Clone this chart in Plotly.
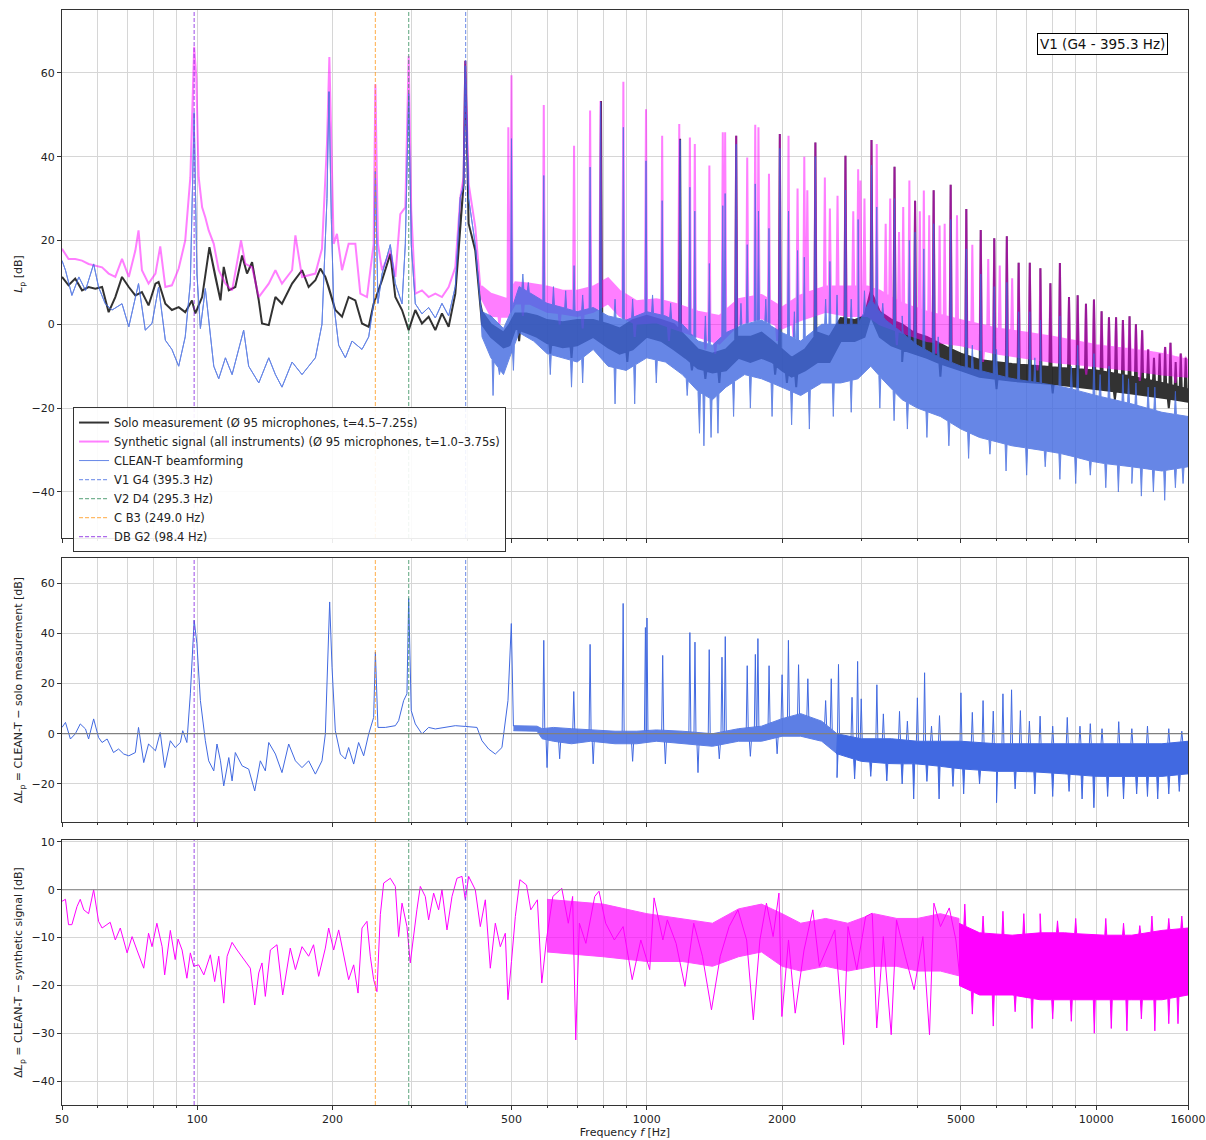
import numpy as np
import plotly.graph_objects as go

# ---------------- instrument fundamentals ----------------
note_names = ["V1 G4 (395.3 Hz)", "V2 D4 (295.3 Hz)", "C B3 (249.0 Hz)", "DB G2 (98.4 Hz)"]
note_freqs = [395.3, 295.3, 249.0, 98.4]
note_colors = ["rgba(65,105,225,0.65)", "rgba(46,139,87,0.65)", "rgba(255,140,0,0.6)", "rgba(138,43,226,0.7)"]

# ---------------- top panel: solo measurement ----------------
solo_line_f = [50, 51.7, 53.5, 55.4, 57.3, 59.3, 61.4, 63.5, 65.7, 68.0, 70.4, 72.8, 75.3, 77.9, 80.7, 82.0, 84.9, 87.8,
               90.9, 94.0, 97.3, 99.0, 102.5, 106.4, 109.7, 112.6, 114.5, 117.5, 121.5, 125.8, 129.0, 132.4, 137.0, 139.3,
               144.2, 149.2, 154.3, 162.5, 171.0, 176.9, 183.1, 187.8, 192.7, 196.0, 202.8, 209.9, 217.1, 224.7, 232.5,
               240.6, 246.8, 257.6, 268.8, 275.8, 285.4, 295.3, 305.5, 316.1, 327.1, 338.5, 350.2, 362.4, 375.0, 384.7,
               391.3, 394.7, 401.5, 415.4, 426.2]
solo_line_db = [11.3, 9.3, 10.9, 8.1, 8.9, 8.5, 8.9, 2.9, 6.5, 11.3, 8.9, 6.9, 7.7, 4.5, 9.7, 10.1, 4.9, 3.4, 4.1, 2.9,
                5.7, 2.6, 6.5, 18.4, 11.3, 5.7, 13.7, 8.1, 8.9, 16.4, 12.1, 14.8, 5.7, 0.2, -0.2, 6.5, 4.9, 9.7, 12.9,
                8.9, 10.5, 13.3, 11.3, 8.9, 3.4, 1.8, 6.5, 5.7, 0.2, -0.6, 4.9, 10.5, 16.8, 6.5, 3.4, -1.4, 3.4, 0.2,
                1.8, -1.4, 2.6, -0.6, 7.3, 24.0, 33.5, 62.9, 24.0, 17.6, 4.9]
solo_band_f = [430, 450, 480, 495, 510, 540, 570, 600, 650, 700, 760, 820, 870, 930, 1000, 1080, 1150, 1220, 1300, 1400,
               1500, 1600, 1700, 1800, 1900, 2000, 2100, 2250, 2400, 2550, 2700, 2900, 3050, 3150, 3300, 3500, 3700,
               3930, 4200, 4660, 5000, 5500, 6500, 7500, 8500, 10000, 12000, 14000, 16000]
solo_band_hi = [3, 0, -2, 0, 2.6, 2.6, 2, 1, 0.5, 1, 1, 0, -1, 1, 2, 1, 0, -3, -6, -7, -6, -3, -3, -2, -4, -6, -8, -6,
                -2, -3, 1.5, 1, 2, 8, 3, 1, 0, -2, -3, -5.5, -7, -8.5, -9.5, -10, -10.5, -11, -12.5, -14, -15.5]
solo_band_lo = [0, -3, -5.5, -5, -1, -2, -3, -4.5, -5.5, -5, -3, -5.5, -7, -6, -3, -4, -6, -8, -10.5, -11.5, -11, -8,
                -9, -8, -9, -11, -12.5, -11, -9, -9, -4, -4, -3, 2, -3, -5, -6, -7, -8, -10, -11, -12.5, -13.5, -14,
                -14.5, -15.5, -16.5, -17.5, -18.5]
solo_peak_f = [791, 1186, 1581, 1977, 2372, 2767, 3162, 3558, 3953, 4348, 4744, 5139, 5534, 5930, 6325, 6720, 7115,
               7511, 7906, 8301, 8697, 9092, 9487, 9883, 10278, 10673, 11068, 11464, 11859, 12254, 12650, 13045, 13440,
               13836, 14231, 14626, 15021, 15417, 15812]
solo_peak_db = [53.3, 44.3, 45, 45.4, 43.4, 40.2, 44, 37.6, 29.5, 32, 33.3, 27.5, 22.5, 20.5, 21, 14.7, 14.7, 13.4, 9.8,
                14.6, 6.5, 6.9, 4.9, 5.9, 3.1, 1.7, 1.7, 1.0, 1.9, 0, -1.4, -6, -8, -7, -5.4, -4.4, -9, -7, -8]
solo_dip_f = [520, 610, 680, 905, 1260, 1350, 1450, 1930, 2050, 2150, 3700, 4500, 6000, 8000, 11000, 14500]
solo_dip_db = [-4, -7, -8, -9, -11, -13, -14, -12, -14, -15, -9, -12.5, -15.5, -16.5, -18, -20]

# ---------------- top panel: synthetic signal ----------------
synth_line_f = [50, 51.7, 53.5, 55.4, 57.3, 59.3, 61.4, 63.5, 65.7, 68.0, 70.4, 72.8, 74.0, 75.3, 77.9, 80.7, 82.7,
                84.9, 87.8, 90.9, 94.0, 96.5, 98.15, 98.4, 99.5, 100.7, 102.5, 104.2, 106.0, 108.8, 111.6, 115.5,
                119.5, 125.1, 127.9, 132.4, 137.0, 144.2, 149.2, 154.3, 162.5, 165.3, 171.0, 183.1, 189.4, 194.3,
                196.7, 198.7, 201.1, 204.5, 209.9, 217.1, 224.7, 230.5, 238.5, 246.8, 249.0, 252.3, 257.6, 268.8,
                275.8, 282.9, 290.3, 295.3, 299.2, 305.5, 316.1, 327.1, 338.5, 350.2, 362.4, 375.0, 384.7, 391.3,
                394.7, 401.5, 415.4, 426.2]
synth_line_db = [18.0, 15.6, 15.6, 15.2, 14.4, 14.0, 13.6, 12.1, 11.3, 15.6, 11.3, 17.6, 22.4, 12.9, 9.7, 12.1, 18.6,
                 8.9, 9.3, 13.3, 20.0, 35.1, 58.9, 66.2, 58.9, 35.1, 27.9, 25.5, 22.4, 19.2, 12.9, 9.7, 8.1, 20.0,
                 14.4, 13.6, 6.5, 9.7, 12.9, 9.7, 12.9, 21.2, 11.3, 12.1, 18.0, 43.0, 63.8, 43.0, 19.2, 21.6, 12.9,
                 19.2, 19.2, 7.3, 6.5, 19.2, 57.3, 19.2, 12.9, 17.6, 11.3, 26.3, 27.9, 64.0, 27.1, 7.3, 8.1, 6.5, 7.3,
                 6.5, 8.9, 13.6, 30.3, 35.1, 62.9, 33.5, 23.2, 8.9]
synth_band_f = [430, 450, 490, 510, 550, 600, 650, 700, 760, 820, 870, 950, 1050, 1150, 1300, 1450, 1600, 1800, 2000,
                2200, 2500, 2800, 3100, 3300, 3700, 4200, 5000, 6000, 7000, 8000, 9000, 10000, 12000, 14000, 16000]
synth_band_hi = [9, 7.3, 6, 10, 9.7, 9, 8, 8, 9, 11, 8, 5.5, 6, 5, 3, 2, 6, 7, 4, 7, 9, 9, 9, 8, 5, 3, 1, -1, -2, -3,
                 -4, -5, -6, -7, -8.5]
synth_band_lo = [6, 2, 1.8, 5, 4.9, 3, 2.6, 2, 3, 5, 2, 0, 0.5, -1, -3, -4.6, 0, 1.5, -1, 1, 3, 2, 2, 0, -2, -4, -5,
                 -7, -8, -9, -9.5, -10, -11, -12, -12.5]
synth_peak_f = [492, 500, 590, 689, 748, 789, 887, 996, 1082, 1181, 1247, 1279, 1378, 1476, 1494, 1581, 1673, 1743,
                1772, 1870, 1977, 2067, 2165, 2241, 2276, 2372, 2490, 2555, 2657, 2767, 2880, 2953, 2988, 3050, 3162,
                3248, 3400, 3480, 3558, 3641, 3720, 3839, 3953, 4050, 4134, 4250, 4348, 4482, 4600, 4744, 4900, 5139,
                5300, 5534, 5750, 5930, 6100, 6325, 6500, 6720, 7115, 7511, 7906, 8301, 8697, 9092, 9487, 9883, 10278,
                10673, 11068, 11464, 11859, 12254, 12650, 13045, 13440, 13836, 14231, 14626, 15021, 15417, 15812]
synth_peak_db = [47, 59.4, 52.3, 42.6, 51, 53.3, 57.9, 51.3, 45, 47.8, 44.6, 43, 37.9, 45.8, 45.8, 45, 39.8, 47.6, 47,
                 35.9, 45.4, 45, 32.4, 40, 32, 43.4, 35, 27.6, 30.7, 40.2, 27, 37, 34.3, 30, 44, 43, 24, 30, 37.6, 22,
                 28, 34.3, 29.5, 27, 31.9, 26, 32, 23.6, 24, 33.3, 26, 27.5, 19, 22.5, 15.6, 20.5, 14, 21, 11, 14.7,
                 14.7, 13.4, 9.8, 14.6, 6.5, 6.9, 4.9, 5.9, 3.1, 1.7, 1.7, 1.0, 1.9, 0, -1.4, -6, -8, -7, -5.4, -4.4,
                 -9, -7, -8]
synth_dip_f = [470, 530, 640, 720, 940, 1120, 1350, 1420, 1950, 2120, 3600, 4400, 5600, 7400, 9500, 12500, 15000]
synth_dip_db = [0, 2, 0, -1, -3, -4, -6, -7, -4, -3, -5, -7, -9, -11, -12, -13.5, -14]

# ---------------- top panel: CLEAN-T beamforming ----------------
clean_line_f = [50, 50.9, 52.6, 54.5, 56.4, 58.8, 60.3, 62.4, 64.6, 68.0, 70.4, 74.0, 76.6, 79.3, 82.0, 84.9, 87.8,
                90.9, 94.0, 96.5, 98.4, 99.8, 101.6, 104.2, 108.8, 111.6, 115.5, 119.5, 126.8, 130.1, 137.0, 144.2,
                149.2, 154.3, 162.5, 171.0, 183.1, 189.4, 194.3, 196.3, 198.7, 201.1, 206.3, 213.5, 220.9, 232.5,
                240.6, 246.8, 249.0, 252.3, 257.6, 268.8, 275.8, 285.4, 290.3, 295.3, 299.2, 305.5, 316.1, 327.1,
                338.5, 350.2, 362.4, 375.0, 384.7, 391.3, 394.7, 401.5, 415.4, 426.2]
clean_line_db = [15.2, 12.9, 6.9, 11.3, 8.1, 14.4, 8.9, 4.9, 3.4, 4.9, -0.6, 9.7, -1.4, 0.2, 8.9, -3.8, -6, -10, -3,
                 10, 50.5, 12, -1, 8.5, -10, -13, -8, -12, -1.4, -10, -14, -8, -12, -15, -9, -12, -8, 0, 30, 55.5, 25,
                 5, -5, -8, -4, -6, -3, 5, 36.5, 5, 12, 19, 9.7, 4.9, 19.2, 55, 19, 4.9, 2.5, 4, 1.5, 5, 2, 9, 30.3,
                 33, 61.7, 30, 19, 5]
clean_band_f = [430, 450, 480, 495, 520, 560, 600, 650, 700, 760, 820, 900, 1000, 1100, 1200, 1300, 1400, 1500, 1650,
                1800, 2000, 2200, 2450, 2700, 2950, 3150, 3400, 3700, 4000, 4500, 5000, 5500, 6500, 7500, 8500, 10000,
                12000, 14000, 16000]
clean_band_hi = [3, 2, -1, 2, 9, 7, 5, 4, 3, 4, 2, 1, 3, 2, 0, -4, -5, -2, 0, 1, -2, -4, 0, 0, 0, 6, 1, -2, -5, -8,
                 -10, -11, -13, -14, -15, -17, -19, -21, -22]
clean_band_lo = [-3, -8, -12, -8, -2, -4, -7, -8, -9, -6, -10, -11, -8, -9, -12, -16, -18, -15, -12, -13, -15, -17,
                 -14, -14, -13, -10, -14, -18, -20, -22, -25, -27, -29, -30, -31, -33, -34, -35, -34]
clean_peak_f = [500, 530, 545, 590, 620, 660, 689, 720, 748, 789, 850, 887, 930, 996, 1030, 1082, 1130, 1186, 1247,
                1279, 1350, 1378, 1476, 1494, 1581, 1620, 1673, 1743, 1772, 1840, 1870, 1977, 2067, 2130, 2165, 2241,
                2372, 2500, 2555, 2650, 2767, 2850, 2953, 3050, 3162, 3248, 3350, 3558, 3700, 3839, 3953, 4134, 4348,
                4450, 4744, 5139, 5300, 5534, 5930, 6000, 6325, 6720, 7115, 7300, 7511, 8301, 8800, 9092, 9883, 10200,
                10673, 11464, 11800, 12254, 13045, 13500, 15000]
clean_peak_db = [44.3, 12, 10, 35.5, 9, 8, 14, 7, 37.5, 53, 6, 47, 6, 39, 7, 29.5, 5, 44, 32.7, 27, 2, 14.5, 28.3,
                 31.2, 43, 5, 19, 33.5, 27, 6, 22.9, 42, 27, 3, 17.6, 16, 40, 6, 15, 7, 32, 6, 25, 8, 38, 28, 5, 30,
                 2, 20, 22, 18, 24, -3, 25, 18, -5, 12, 9, -6, 10, 3, 3, -8, 1, 2, -10, -5, -7, -12, -10, -12, -13,
                 -14, -15, -15, -16]
clean_dip_f = [455, 470, 505, 610, 680, 720, 850, 940, 1050, 1230, 1310, 1340, 1390, 1440, 1560, 1700, 1900, 2100,
               2300, 2600, 2850, 3300, 3550, 3800, 4200, 4700, 5200, 5800, 6300, 7000, 7700, 8300, 9000, 9700, 10500,
               11200, 12000, 12600, 13400, 14200, 15000, 15600]
clean_dip_db = [-17, -12, -11, -12, -15, -14, -19, -19, -14, -17, -26, -29, -27, -26, -22, -20, -22, -24, -25, -22,
                -21, -20, -23, -25, -27, -29, -32, -31, -35, -36, -34, -37, -38, -36, -39, -40, -38, -41, -40, -42,
                -39, -38]

# ---------------- middle panel: CLEAN-T - solo ----------------
dsolo_line_f = [50, 50.9, 52.2, 53.5, 54.9, 56.4, 57.3, 58.8, 60.3, 61.4, 63.0, 65.1, 66.8, 68.6, 70.4, 72.8, 74.0,
                76.0, 77.9, 80.7, 82.7, 84.6, 87.1, 89.3, 91.7, 92.8, 94.8, 96.5, 98.4, 99.8, 101.6, 104.2, 106.0,
                108.8, 110.6, 112.6, 114.5, 117.5, 119.5, 121.5, 125.8, 130.1, 134.2, 138.1, 141.7, 144.2, 149.2,
                154.3, 159.7, 165.3, 171.0, 176.9, 183.1, 189.4, 192.7, 195.0, 197.0, 199.4, 202.8, 208.1, 213.5,
                217.1, 222.8, 228.5, 234.5, 240.6, 246.8, 249.0, 252.3, 262.0, 275.8, 280.5, 287.8, 292.7, 295.3,
                299.2, 305.5, 316.1, 327.1, 338.5, 356.3, 375.0, 394.7, 419.0, 429.9, 444.8, 460.3, 476.2, 491.1,
                499.6, 505]
dsolo_line_db = [2.5, 4.5, -2.1, -0.1, 3.9, 1.9, -2.1, 5.9, -1.5, -3.5, -2.1, -7.5, -6.1, -8.1, -8.8, -7.5, 2.5,
                 -11.5, -4.1, -6.8, 0.5, -13.5, -2.8, -5.5, -3.5, 1.2, -3.5, 15.9, 45.2, 35.9, 13.2, -2.8, -10.8,
                 -14.8, -4.1, -10.8, -20.8, -9.5, -18.8, -7.5, -12.8, -14.1, -22.8, -10.8, -14.8, -3.5, -8.1, -15.5,
                 -4.1, -10.8, -13.5, -10.8, -16.1, -10.8, -0.1, 29.2, 52.5, 26.5, 1.2, -8.1, -10.1, -5.5, -12.1, -3.5,
                 -8.8, -0.1, 6.5, 32.5, 2.5, 2.5, 3.2, 5.2, 13.2, 15.9, 53.9, 9.2, 3.9, -0.1, 2.5, 1.9, 2.5, 3.2, 2.9,
                 2.5, -2.8, -6.1, -8.1, -5.5, 13.2, 43.9, 3.0]
dsolo_band_f = [505, 570, 585, 620, 680, 750, 850, 950, 1050, 1200, 1400, 1600, 1800, 2000, 2200, 2450, 2650, 3000,
                3500, 4000, 4500, 5000, 6000, 7000, 8500, 10000, 12000, 14000, 16000]
dsolo_band_hi = [3.2, 3, 2, 2.5, 2, 1.5, 1, 1, 1.5, 1, 0, 2, 3, 6, 8, 5, 0, -2, -2, -3, -3, -3, -4, -4, -4, -4, -4,
                 -4, -3]
dsolo_band_lo = [1.2, 1, -2, -3, -4, -3, -4, -4, -3, -4, -5, -3, -3, -1, -1, -3, -8, -11, -12, -12, -13, -14, -15,
                 -15, -16, -17, -17, -17, -16]
dsolo_peak_f = [590, 688, 748, 886, 993, 1001, 1085, 1247, 1280, 1377, 1470, 1495, 1673, 1744, 1767, 1871, 2000, 2066,
                2176, 2282, 2500, 2573, 2670, 2862, 2945, 3000, 3250, 3360, 3650, 3800, 4000, 4150, 4300, 4480, 5000,
                5300, 5600, 5900, 6200, 6480, 6780, 7100, 7500, 8000, 8620, 9200, 9700, 10300, 11220, 12000, 13000,
                14500, 15500]
dsolo_peak_db = [37.2, 16.8, 35.6, 51.9, 42.3, 46.1, 31.2, 40.3, 36.5, 33.5, 30.5, 38.7, 27.1, 31.6, 37.9, 27.1,
                 23.5, 37.2, 27.5, 21.9, 13.2, 21.9, 27.6, 14.5, 28.8, 13.9, 19.5, 7.9, 8.9, 5, 14.3, 24.3, 3, 7.2,
                 16.3, 8.5, 13.2, 9, 15.9, 17.5, 9.2, 5, 7, 3, 6.5, 3, 4, 2, 4.8, 2, 3, 2, 1]
dsolo_dip_f = [600, 640, 760, 930, 1100, 1300, 1450, 1700, 1950, 2650, 2900, 3150, 3420, 3700, 3925, 4200, 4470, 4800,
               5070, 5500, 6000, 6600, 7300, 8000, 8700, 9300, 9880, 10600, 11500, 12300, 13000, 13700, 14500, 15300]
dsolo_dip_db = [-13.5, -10, -12, -11, -12, -15.5, -10, -9, -8, -17.5, -18, -17, -18.8, -20, -26, -19, -26, -21, -24,
                -20, -27.5, -22, -24, -25, -23, -26, -29.5, -25, -26, -24, -25, -26, -24, -23]

# ---------------- bottom panel: CLEAN-T - synthetic ----------------
dsyn_line_f = [50, 50.9, 51.7, 52.6, 54.0, 54.9, 55.9, 57.3, 58.8, 60.3, 61.4, 63.0, 64.0, 65.7, 67.4, 69.8, 71.6,
               73.4, 76.0, 77.9, 79.3, 81.3, 83.5, 84.6, 87.1, 89.3, 90.6, 92.5, 94.8, 96.5, 98.2, 100.7, 103.4, 106.9,
               109.3, 111.6, 114.5, 116.5, 119.5, 122.6, 126.8, 131.2, 134.2, 137.0, 139.3, 141.7, 145.4, 150.4, 154.9,
               161.0, 165.3, 171.0, 176.9, 181.4, 186.2, 192.7, 196.0, 201.1, 206.3, 211.7, 217.1, 222.8, 227.8, 232.5,
               238.5, 242.6, 246.8, 251.0, 255.4, 259.8, 268.8, 275.8, 280.5, 285.4, 292.7, 297.7, 302.8, 308.0, 313.4,
               321.5, 327.1, 335.6, 344.3, 350.2, 359.3, 368.7, 378.2, 388.0, 394.7, 401.5, 415.4, 426.2, 437.3, 448.6,
               460.3, 472.2, 484.4, 491, 500, 510, 522, 540, 552, 571, 584, 598, 618, 647, 669, 684, 695, 708, 732, 766,
               783, 810, 847, 886, 928, 970, 1015, 1038, 1086, 1111, 1162, 1216, 1272, 1330, 1393, 1457, 1525, 1595,
               1668, 1726, 1785, 1846, 1910, 1968, 1998, 2067, 2139, 2238, 2341, 2421, 2620, 2711, 2741, 2804, 2933,
               3068, 3174, 3248, 3359, 3498, 3594, 3760, 3933, 4114, 4256, 4353, 4502, 4710, 4872, 4985]
dsyn_line_db = [-2.4, -2.0, -7.3, -7.3, -3.5, -2.0, -4.2, -5.0, 0, -6.6, -8.0, -7.3, -6.8, -10.5, -8.0, -13.2, -9.8,
                -12.6, -16.4, -9.1, -11.9, -7.0, -11.9, -17.8, -8.5, -14.6, -10.3, -12.6, -18.5, -13.2, -16.0, -15.7,
                -17.8, -13.6, -19.2, -13.9, -23.7, -13.9, -11.0, -12.6, -14.6, -16.4, -24.1, -17.4, -15.3, -22.3,
                -12.6, -11.5, -22.0, -12.2, -16.7, -11.9, -13.9, -11.5, -18.1, -12.2, -8.0, -12.6, -8.4, -13.6, -18.8,
                -15.7, -21.6, -8.0, -6.6, -13.9, -18.8, -21.3, -5.2, 1.4, 2.4, 0.7, -9.8, -2.8, -7.7, -15.3, -9.1,
                -4.2, 0.7, -1.4, -6.3, -0.7, -4.2, 0, -8.4, -1.4, 2.4, 2.8, -2.1, 2.8, 0, -7.7, -2.1, -16.4, -7.0,
                -11.9, -9.1, -23.0, -15.0,
                -5.6, 2.1, 1.0, -4.2, -2.1, -19.5, -10.5, -1.4, 0.3, -7.0, -1.4, -31.4, -7.0, -11.2, -1.4, -0.3, -7.0,
                -10.5, -7.7, -18.8, -10.5, -16.7, -1.7, -10.5, -6.3, -11.2, -20.2, -7.0, -13.9, -25.1, -13.9, -7.7,
                -4.2, -10.5, -27.2, -10.5, -2.8, -9.8, -0.7, -26.5, -10.5, -25.8, -12.6, -4.2, -16.0, -8.4, -27.9,
                -32.4, -7.7, -16.7, -5.6, -4.9, -28.9, -9.8, -30.3, -6.3, -13.9, -20.9, -9.8, -30.3, -2.8, -7.7, -3.8,
                -10.5, -19.5]
dsyn_mid_f = [600, 800, 1000, 1200, 1400, 1600, 1800, 2000, 2200, 2500, 2800, 3200, 3600, 4000, 4500, 4950]
dsyn_mid_hi = [-2, -3, -5, -6, -7, -4, -3, -5, -7, -6, -7, -5, -6, -6, -5, -6]
dsyn_mid_lo = [-13, -14, -15, -15, -16, -14, -13, -16, -17, -16, -17, -16, -16, -17, -17, -18]
dsyn_hf_f = [4950, 5500, 6500, 7500, 8500, 10000, 12000, 14000, 16000]
dsyn_hf_hi = [-7, -9, -9.5, -9, -9, -9.5, -9.5, -8.5, -8]
dsyn_hf_lo = [-20, -22, -22, -23, -23, -23, -23, -23, -22]
dsyn_peak_f = [5100, 5600, 6200, 6900, 7500, 8200, 9000, 10500, 11500, 12500, 13300, 14500, 15500]
dsyn_peak_db = [-3, -5.5, -4.5, -5, -5, -6.5, -6, -6, -7, -7.5, -5.5, -6, -5.5]
dsyn_dip_f = [5300, 5900, 6600, 7200, 8000, 8800, 9900, 10800, 11700, 12600, 13500, 14500, 15200]
dsyn_dip_db = [-26, -28.5, -25.5, -29, -27, -27.5, -30, -29, -29.5, -27, -29.5, -28, -28]

# ---------------- axis ticks ----------------
x_major = [50, 100, 200, 500, 1000, 2000, 5000, 10000, 16000]
x_minor = [60, 70, 80, 90, 300, 400, 600, 700, 800, 900, 3000, 4000, 6000, 7000, 8000, 9000]
y1_ticks = [-40, -20, 0, 20, 40, 60]
y2_ticks = [-20, 0, 20, 40, 60]
y3_ticks = [-40, -30, -20, -10, 0, 10]
y1_range = [-51, 75]
y2_range = [-35.2, 70]
y3_range = [-45, 10.4]

REL = 0.005


def merge_edge(band_f, band_v, spike_f, spike_v, rel=REL):
    bf = np.asarray(band_f, float)
    bv = np.asarray(band_v, float)
    lbf = np.log10(bf)
    pts = list(zip(bf.tolist(), bv.tolist()))
    for f, v in zip(spike_f, spike_v):
        if f < bf[0] or f > bf[-1]:
            continue
        for ff in (f * (1 - rel), f * (1 + rel)):
            pts.append((ff, float(np.interp(np.log10(ff), lbf, bv))))
        pts.append((float(f), float(v)))
    pts.sort(key=lambda p: p[0])
    return [p[0] for p in pts], [p[1] for p in pts]


def polygon(line_f, line_v, band_f, hi, lo, pk_f=(), pk_v=(), dp_f=(), dp_v=()):
    uf, uv = merge_edge(band_f, hi, pk_f, pk_v)
    df, dv = merge_edge(band_f, lo, dp_f, dp_v)
    xs = list(line_f) + uf + df[::-1] + list(line_f)[::-1]
    ys = list(line_v) + uv + dv[::-1] + list(line_v)[::-1]
    return xs, ys


def spikes(band_f, base, spike_f, spike_v, rel=REL):
    lbf = np.log10(np.asarray(band_f, float))
    bv = np.asarray(base, float)
    xs, ys = [], []
    for f, v in zip(spike_f, spike_v):
        b0 = float(np.interp(np.log10(f * (1 - rel)), lbf, bv))
        b1 = float(np.interp(np.log10(f * (1 + rel)), lbf, bv))
        xs += [f * (1 - rel), f, f * (1 + rel), None]
        ys += [b0, v, b1, None]
    return xs, ys


def sub_band(band_f, hi, lo, fmin, fmax):
    idx = [i for i, f in enumerate(band_f) if fmin <= f <= fmax]
    return [band_f[i] for i in idx], [hi[i] for i in idx], [lo[i] for i in idx]


fig = go.Figure()


def add_poly(xs, ys, color, width, opacity, xa, ya):
    fig.add_trace(go.Scatter(x=xs, y=ys, mode="lines", fill="toself", fillcolor=color,
                             line=dict(color=color, width=width), opacity=opacity,
                             showlegend=False, hoverinfo="skip", xaxis=xa, yaxis=ya))


def add_line(xs, ys, color, width, xa, ya, opacity=1.0):
    fig.add_trace(go.Scatter(x=xs, y=ys, mode="lines", line=dict(color=color, width=width), opacity=opacity,
                             showlegend=False, hoverinfo="skip", xaxis=xa, yaxis=ya, connectgaps=False))


# top panel
xs, ys = polygon(solo_line_f, solo_line_db, solo_band_f, solo_band_hi, solo_band_lo, solo_peak_f, solo_peak_db,
                 solo_dip_f, solo_dip_db)
add_poly(xs, ys, "#000000", 2, 0.8, "x", "y")
xs, ys = polygon(synth_line_f, synth_line_db, synth_band_f, synth_band_hi, synth_band_lo, synth_peak_f, synth_peak_db,
                 synth_dip_f, synth_dip_db)
add_poly(xs, ys, "#FF00FF", 2, 0.5, "x", "y")
xs, ys = polygon(clean_line_f, clean_line_db, clean_band_f, clean_band_hi, clean_band_lo, clean_peak_f,
                 clean_peak_db, clean_dip_f, clean_dip_db)
add_poly(xs, ys, "#4169E1", 1, 0.8, "x", "y")

# middle panel: line (low f), noisy band (mid f), dense band (high f), spikes
add_line(dsolo_line_f, dsolo_line_db, "#4169E1", 1, "x2", "y2")
bf, bh, bl = sub_band(dsolo_band_f, dsolo_band_hi, dsolo_band_lo, 500, 2650)
xs, ys = polygon([], [], bf, bh, bl)
add_poly(xs, ys, "#4169E1", 1, 0.85, "x2", "y2")
bf, bh, bl = sub_band(dsolo_band_f, dsolo_band_hi, dsolo_band_lo, 2650, 16000)
xs, ys = polygon([], [], bf, bh, bl, (), (), dsolo_dip_f, dsolo_dip_db)
add_poly(xs, ys, "#4169E1", 1, 1.0, "x2", "y2")
xs, ys = spikes(dsolo_band_f, dsolo_band_hi, dsolo_peak_f, dsolo_peak_db)
add_line(xs, ys, "#4169E1", 1, "x2", "y2")
low_dips = [(f, v) for f, v in zip(dsolo_dip_f, dsolo_dip_db) if f < 2650]
xs, ys = spikes(dsolo_band_f, dsolo_band_lo, [p[0] for p in low_dips], [p[1] for p in low_dips])
add_line(xs, ys, "#4169E1", 1, "x2", "y2")

# bottom panel
xs, ys = polygon([], [], dsyn_mid_f, dsyn_mid_hi, dsyn_mid_lo)
add_poly(xs, ys, "#FF00FF", 1, 0.7, "x3", "y3")
add_line(dsyn_line_f, dsyn_line_db, "#FF00FF", 1, "x3", "y3")
xs, ys = polygon([], [], dsyn_hf_f, dsyn_hf_hi, dsyn_hf_lo, dsyn_peak_f, dsyn_peak_db, dsyn_dip_f, dsyn_dip_db)
add_poly(xs, ys, "#FF00FF", 1, 1.0, "x3", "y3")

# zero lines
for xa, ya in (("x2", "y2"), ("x3", "y3")):
    add_line([50, 16000], [0, 0], "#808080", 1.2, xa, ya)

# note lines
for xa, ya, yr in (("x", "y", y1_range), ("x2", "y2", y2_range), ("x3", "y3", y3_range)):
    for f, c in zip(note_freqs, note_colors):
        fig.add_trace(go.Scatter(x=[f, f], y=yr, mode="lines", line=dict(color=c, width=1.2, dash="4px,2px"),
                                 showlegend=False, hoverinfo="skip", xaxis=xa, yaxis=ya))

# legend entries
legend_items = [
    ("Solo measurement (Ø 95 microphones, t=4.5–7.25s)", "rgba(0,0,0,0.8)", 2, "solid"),
    ("Synthetic signal (all instruments) (Ø 95 microphones, t=1.0–3.75s)", "rgba(255,0,255,0.5)", 2, "solid"),
    ("CLEAN-T beamforming", "rgba(65,105,225,0.8)", 1, "solid"),
]
for n, c in zip(note_names, note_colors):
    legend_items.append((n, c, 1.2, "4px,2px"))
for name, c, w, d in legend_items:
    fig.add_trace(go.Scatter(x=[None], y=[None], mode="lines", name=name, line=dict(color=c, width=w, dash=d),
                             xaxis="x", yaxis="y"))

font_fam = "DejaVu Sans"
common_x = dict(type="log", range=[np.log10(50), np.log10(16000)], showgrid=True, gridcolor="#d6d6d6",
                gridwidth=1, tickmode="array", tickvals=x_major, ticktext=[str(v) for v in x_major],
                ticks="outside", ticklen=4, tickwidth=1, tickcolor="#333", showline=True, linecolor="#333",
                linewidth=1, mirror=True, zeroline=False, automargin=False,
                minor=dict(tickmode="array", tickvals=x_minor, showgrid=True, gridcolor="#d6d6d6", ticks="outside",
                           ticklen=2, tickcolor="#333"),
                tickfont=dict(size=11, color="#222", family=font_fam))
common_y = dict(showgrid=True, gridcolor="#d6d6d6", gridwidth=1, ticks="outside", ticklen=4, tickwidth=1,
                tickcolor="#333", showline=True, linecolor="#333", linewidth=1, mirror=True, zeroline=False,
                automargin=False, tickfont=dict(size=11, color="#222", family=font_fam))

fig.update_layout(
    width=1206, height=1140,
    margin=dict(l=62, r=18, t=10, b=35, autoexpand=False),
    paper_bgcolor="white", plot_bgcolor="white",
    font=dict(family=font_fam, size=11, color="#222"),
    xaxis=dict(common_x, domain=[0, 1], anchor="y", showticklabels=False),
    xaxis2=dict(common_x, domain=[0, 1], anchor="y2", showticklabels=False),
    xaxis3=dict(common_x, domain=[0, 1], anchor="y3",
                title=dict(text="Frequency <i>f</i> [Hz]", standoff=2, font=dict(size=11))),
    yaxis=dict(common_y, domain=[0.5178, 1.0], anchor="x", range=y1_range, tickvals=y1_ticks,
               title=dict(text="<i>L</i><sub>p</sub> [dB]", font=dict(size=11), standoff=6)),
    yaxis2=dict(common_y, domain=[0.2584, 0.4995], anchor="x2", range=y2_range, tickvals=y2_ticks,
                title=dict(text="Δ<i>L</i><sub>p</sub> = CLEAN-T − solo measurement [dB]", font=dict(size=11),
                           standoff=6)),
    yaxis3=dict(common_y, domain=[0.0, 0.2420], anchor="x3", range=y3_range, tickvals=y3_ticks,
                title=dict(text="Δ<i>L</i><sub>p</sub> = CLEAN-T − synthetic signal [dB]", font=dict(size=11),
                           standoff=6)),
    legend=dict(x=0.0098, y=0.6374, xanchor="left", yanchor="top", bgcolor="rgba(255,255,255,0.9)",
                bordercolor="#333", borderwidth=1, font=dict(size=11.5, color="#222", family=font_fam),
                tracegroupgap=0, itemwidth=30),
    annotations=[dict(text="V1 (G4 - 395.3 Hz)", xref="paper", yref="paper", x=0.9822, y=0.979,
                      xanchor="right", yanchor="top", showarrow=False, bordercolor="#000", borderwidth=1,
                      borderpad=2, bgcolor="white", font=dict(size=13.5, color="#111", family=font_fam))],
)

fig.write_html("out.html", config={"displayModeBar": False},
               post_script="document.body.style.margin='0px';document.body.style.overflow='hidden';")
